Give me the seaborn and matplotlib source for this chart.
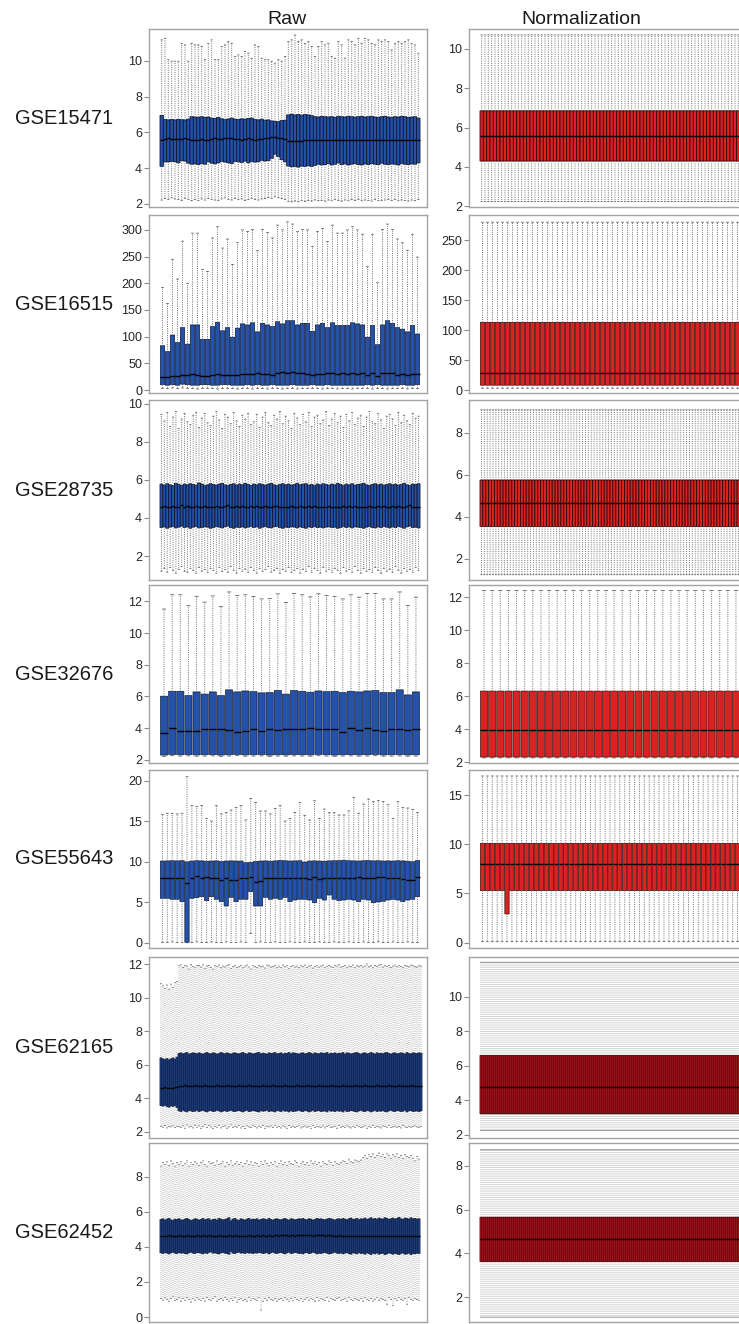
import numpy as np
import pandas as pd
import matplotlib
matplotlib.use("Agg")
import matplotlib.pyplot as plt
import seaborn as sns

# ---------------------------------------------------------------------------
# Per-sample five-number summaries (whisker low, Q1, median, Q3, whisker high)
# ---------------------------------------------------------------------------
datasets = ["GSE15471", "GSE16515", "GSE28735", "GSE32676",
            "GSE55643", "GSE62165", "GSE62452"]

# GSE15471 raw (78 arrays)
gse15471_hi = [11.17, 11.26, 10.06, 9.98, 9.98, 9.98, 10.98, 10.89, 9.98, 10.98,
               10.89, 10.89, 10.80, 10.06, 10.98, 11.17, 10.06, 10.06, 10.80, 10.89,
               11.07, 10.98, 10.24, 10.33, 10.24, 10.52, 10.43, 10.15, 10.89, 10.80,
               10.15, 10.06, 10.06, 9.98, 9.87, 10.06, 9.98, 10.24, 11.07, 11.17,
               11.44, 11.07, 11.17, 10.98, 11.07, 10.80, 10.24, 10.80, 11.07, 10.89,
               10.98, 10.24, 10.15, 11.07, 10.89, 10.15, 11.17, 11.07, 10.89, 11.26,
               10.98, 11.26, 11.17, 10.98, 10.89, 11.17, 11.07, 11.17, 11.07, 10.61,
               10.98, 11.07, 10.98, 11.07, 11.17, 10.98, 10.89, 10.43]
gse15471_q3 = [6.95, 6.72, 6.70, 6.72, 6.70, 6.73, 6.71, 6.70, 6.74, 6.88,
               6.86, 6.85, 6.88, 6.84, 6.86, 6.80, 6.78, 6.84, 6.76, 6.72,
               6.75, 6.80, 6.74, 6.72, 6.76, 6.74, 6.78, 6.80, 6.72, 6.70,
               6.74, 6.68, 6.70, 6.64, 6.62, 6.60, 6.66, 6.68, 6.98, 7.02,
               6.98, 7.00, 6.96, 7.00, 6.98, 6.94, 6.88, 6.86, 6.90, 6.88,
               6.86, 6.88, 6.84, 6.90, 6.88, 6.86, 6.90, 6.88, 6.85, 6.88,
               6.90, 6.86, 6.88, 6.90, 6.86, 6.84, 6.88, 6.90, 6.86, 6.84,
               6.88, 6.86, 6.90, 6.88, 6.84, 6.86, 6.88, 6.80]
gse15471_med = [5.55, 5.64, 5.66, 5.64, 5.62, 5.65, 5.63, 5.66, 5.64, 5.60,
                5.58, 5.60, 5.62, 5.58, 5.60, 5.62, 5.66, 5.64, 5.62, 5.66,
                5.68, 5.66, 5.64, 5.62, 5.60, 5.64, 5.66, 5.62, 5.60, 5.62,
                5.64, 5.66, 5.70, 5.72, 5.74, 5.70, 5.66, 5.64, 5.52, 5.50,
                5.52, 5.54, 5.52, 5.55, 5.56, 5.58, 5.60, 5.58, 5.56, 5.58,
                5.56, 5.58, 5.60, 5.56, 5.58, 5.55, 5.57, 5.58, 5.56, 5.58,
                5.60, 5.58, 5.56, 5.58, 5.60, 5.58, 5.56, 5.58, 5.60, 5.58,
                5.56, 5.58, 5.60, 5.58, 5.56, 5.58, 5.60, 5.56]
gse15471_q1 = [4.10, 4.35, 4.35, 4.38, 4.36, 4.30, 4.42, 4.40, 4.28, 4.22,
               4.24, 4.20, 4.26, 4.22, 4.36, 4.28, 4.24, 4.30, 4.38, 4.34,
               4.30, 4.26, 4.38, 4.36, 4.32, 4.40, 4.30, 4.38, 4.34, 4.36,
               4.44, 4.40, 4.42, 4.55, 4.78, 4.65, 4.48, 4.36, 4.12, 4.08,
               4.10, 4.06, 4.12, 4.10, 4.14, 4.10, 4.16, 4.22, 4.18, 4.20,
               4.26, 4.18, 4.22, 4.30, 4.20, 4.24, 4.18, 4.22, 4.26, 4.20,
               4.18, 4.24, 4.20, 4.26, 4.22, 4.20, 4.28, 4.22, 4.20, 4.24,
               4.22, 4.18, 4.26, 4.22, 4.20, 4.24, 4.22, 4.30]
gse15471_lo = [2.22, 2.30, 2.26, 2.34, 2.28, 2.24, 2.20, 2.32, 2.26, 2.18,
               2.24, 2.20, 2.28, 2.22, 2.30, 2.26, 2.22, 2.20, 2.28, 2.34,
               2.26, 2.22, 2.30, 2.24, 2.28, 2.20, 2.26, 2.32, 2.24, 2.22,
               2.28, 2.30, 2.36, 2.32, 2.40, 2.36, 2.30, 2.26, 2.14, 2.12,
               2.16, 2.12, 2.18, 2.14, 2.20, 2.16, 2.22, 2.18, 2.20, 2.16,
               2.22, 2.18, 2.24, 2.20, 2.16, 2.22, 2.18, 2.24, 2.20, 2.26,
               2.18, 2.22, 2.20, 2.16, 2.24, 2.20, 2.18, 2.22, 2.26, 2.20,
               2.24, 2.18, 2.22, 2.20, 2.16, 2.22, 2.18, 2.26]

# GSE16515 raw (52 arrays, linear scale)
gse16515_hi = [192, 162, 245, 208, 279, 200, 294, 294, 226, 222,
               285, 306, 266, 283, 235, 276, 300, 297, 301, 261,
               301, 295, 285, 309, 300, 315, 311, 297, 301, 300,
               269, 297, 303, 278, 309, 294, 294, 300, 306, 300,
               292, 231, 292, 201, 301, 311, 301, 283, 276, 262,
               292, 249]
gse16515_q3 = [83, 72, 103, 89, 117, 86, 122, 122, 95, 95,
               119, 127, 111, 117, 99, 116, 124, 122, 126, 109,
               125, 122, 119, 128, 124, 130, 130, 122, 125, 125,
               110, 122, 125, 117, 126, 121, 121, 121, 126, 124,
               122, 99, 121, 85, 122, 130, 125, 117, 114, 109,
               121, 105]
gse16515_med = [25, 24, 27, 26, 29, 28, 30, 29, 27, 26,
                29, 30, 29, 29, 28, 29, 30, 30, 30, 31,
                30, 30, 29, 31, 34, 32, 33, 32, 31, 30,
                28, 30, 30, 31, 32, 30, 31, 30, 31, 30,
                31, 29, 32, 27, 31, 32, 31, 29, 30, 29,
                30, 30]
gse16515_q1 = [10, 9, 10, 9, 11, 10, 9, 9, 10, 10,
               9, 9, 10, 10, 9, 9, 9, 10, 9, 10,
               9, 9, 10, 9, 9, 9, 10, 9, 9, 9,
               10, 9, 9, 10, 9, 9, 9, 9, 9, 9,
               9, 10, 9, 10, 9, 9, 9, 9, 10, 9,
               9, 10]
gse16515_lo = [3, 3, 4, 3, 4, 3, 3, 2, 3, 3,
               3, 2, 3, 3, 3, 2, 3, 3, 2, 3,
               3, 2, 3, 3, 2, 3, 3, 2, 3, 3,
               3, 3, 2, 3, 3, 2, 3, 3, 2, 3,
               3, 3, 2, 3, 3, 2, 3, 3, 3, 2,
               3, 3]

# GSE28735 raw (90 arrays)
gse28735_hi = [9.45, 9.10, 9.55, 8.80, 9.30, 9.60, 8.70, 9.20, 9.50, 9.05,
               8.90, 9.40, 9.55, 8.75, 9.25, 9.50, 9.00, 8.85, 9.35, 9.60,
               9.15, 8.70, 9.45, 9.30, 8.95, 9.55, 9.10, 8.80, 9.40, 9.20,
               9.50, 8.90, 9.05, 9.45, 8.75, 9.30, 9.55, 9.00, 8.85, 9.40,
               9.20, 9.60, 8.95, 9.35, 9.10, 8.70, 9.50, 9.25, 8.90, 9.45,
               9.05, 9.55, 8.80, 9.30, 9.40, 8.95, 9.15, 9.60, 8.85, 9.20,
               9.50, 9.00, 9.35, 8.75, 9.45, 9.10, 9.55, 8.90, 9.25, 9.40,
               8.80, 9.30, 9.60, 9.05, 8.95, 9.50, 9.15, 8.70, 9.35, 9.45,
               9.20, 8.85, 9.55, 9.00, 9.40, 9.10, 8.90, 9.50, 9.25, 9.35]
gse28735_q3 = [5.78, 5.72, 5.80, 5.74, 5.70, 5.82, 5.76, 5.70, 5.78, 5.74,
               5.80, 5.76, 5.72, 5.84, 5.78, 5.70, 5.74, 5.80, 5.76, 5.72,
               5.78, 5.82, 5.74, 5.70, 5.76, 5.80, 5.72, 5.78, 5.74, 5.82,
               5.76, 5.70, 5.78, 5.74, 5.80, 5.76, 5.72, 5.78, 5.82, 5.74,
               5.70, 5.76, 5.80, 5.74, 5.78, 5.72, 5.76, 5.82, 5.74, 5.78,
               5.80, 5.72, 5.76, 5.70, 5.78, 5.74, 5.80, 5.76, 5.72, 5.78,
               5.74, 5.82, 5.76, 5.70, 5.78, 5.74, 5.80, 5.72, 5.76, 5.78,
               5.82, 5.74, 5.70, 5.76, 5.80, 5.74, 5.78, 5.72, 5.76, 5.80,
               5.74, 5.78, 5.72, 5.76, 5.82, 5.74, 5.70, 5.78, 5.76, 5.80]
gse28735_med = [4.58, 4.62, 4.56, 4.60, 4.64, 4.58, 4.60, 4.66, 4.58, 4.62,
                4.56, 4.60, 4.64, 4.58, 4.60, 4.62, 4.60, 4.56, 4.58, 4.64,
                4.60, 4.58, 4.62, 4.66, 4.60, 4.56, 4.62, 4.58, 4.62, 4.56,
                4.60, 4.64, 4.58, 4.62, 4.56, 4.60, 4.64, 4.58, 4.58, 4.62,
                4.64, 4.58, 4.56, 4.60, 4.58, 4.62, 4.60, 4.58, 4.62, 4.58,
                4.56, 4.62, 4.58, 4.64, 4.60, 4.60, 4.58, 4.60, 4.62, 4.58,
                4.60, 4.56, 4.58, 4.64, 4.60, 4.62, 4.58, 4.62, 4.60, 4.58,
                4.56, 4.60, 4.64, 4.60, 4.58, 4.62, 4.58, 4.64, 4.60, 4.58,
                4.62, 4.58, 4.64, 4.60, 4.56, 4.62, 4.66, 4.58, 4.60, 4.58]
gse28735_q1 = [3.50, 3.54, 3.46, 3.52, 3.56, 3.48, 3.52, 3.58, 3.50, 3.54,
               3.46, 3.52, 3.56, 3.48, 3.50, 3.54, 3.52, 3.46, 3.50, 3.56,
               3.52, 3.48, 3.54, 3.58, 3.50, 3.46, 3.52, 3.50, 3.54, 3.48,
               3.52, 3.56, 3.50, 3.54, 3.46, 3.52, 3.56, 3.50, 3.48, 3.54,
               3.56, 3.50, 3.46, 3.52, 3.50, 3.54, 3.52, 3.48, 3.54, 3.50,
               3.46, 3.54, 3.50, 3.56, 3.50, 3.52, 3.48, 3.52, 3.54, 3.50,
               3.52, 3.46, 3.50, 3.56, 3.50, 3.54, 3.48, 3.54, 3.52, 3.50,
               3.46, 3.52, 3.56, 3.50, 3.48, 3.54, 3.50, 3.56, 3.52, 3.48,
               3.54, 3.50, 3.56, 3.52, 3.46, 3.54, 3.58, 3.50, 3.52, 3.48]
gse28735_lo = [1.20, 1.35, 1.15, 1.40, 1.25, 1.10, 1.30, 1.45, 1.20, 1.15,
               1.35, 1.25, 1.10, 1.40, 1.20, 1.30, 1.15, 1.35, 1.25, 1.10,
               1.40, 1.20, 1.30, 1.15, 1.45, 1.25, 1.10, 1.35, 1.20, 1.30,
               1.15, 1.40, 1.25, 1.10, 1.35, 1.20, 1.30, 1.45, 1.15, 1.25,
               1.35, 1.10, 1.30, 1.20, 1.40, 1.15, 1.25, 1.35, 1.10, 1.30,
               1.20, 1.45, 1.15, 1.35, 1.25, 1.10, 1.40, 1.20, 1.30, 1.15,
               1.35, 1.25, 1.10, 1.40, 1.20, 1.30, 1.15, 1.45, 1.25, 1.10,
               1.35, 1.20, 1.30, 1.15, 1.40, 1.25, 1.10, 1.35, 1.20, 1.30,
               1.15, 1.45, 1.25, 1.10, 1.35, 1.20, 1.30, 1.15, 1.40, 1.25]

# GSE32676 raw (32 arrays)
gse32676_hi = [11.52, 12.42, 12.42, 11.73, 12.33, 11.96, 12.35, 11.67, 12.60, 12.37,
               12.42, 12.31, 12.16, 12.18, 12.48, 11.94, 12.50, 12.42, 12.29, 12.48,
               12.37, 12.31, 12.16, 12.42, 12.27, 12.50, 12.50, 12.16, 12.16, 12.60,
               11.75, 12.27]
gse32676_q3 = [6.02, 6.33, 6.33, 6.06, 6.29, 6.15, 6.29, 6.06, 6.42, 6.29,
               6.35, 6.31, 6.23, 6.25, 6.38, 6.15, 6.38, 6.33, 6.27, 6.35,
               6.31, 6.33, 6.25, 6.33, 6.29, 6.35, 6.38, 6.25, 6.25, 6.42,
               6.10, 6.29]
gse32676_med = [3.71, 3.98, 3.80, 3.83, 3.85, 3.92, 3.96, 3.92, 3.88, 3.75,
                3.85, 3.96, 3.83, 3.92, 3.88, 3.96, 3.96, 3.92, 3.98, 3.92,
                3.92, 3.92, 3.75, 4.00, 3.88, 4.00, 3.88, 3.79, 3.92, 3.92,
                3.88, 3.92]
gse32676_q1 = [2.30, 2.34, 2.32, 2.33, 2.31, 2.32, 2.33, 2.30, 2.32, 2.34,
               2.31, 2.32, 2.33, 2.30, 2.32, 2.31, 2.33, 2.32, 2.31, 2.34,
               2.32, 2.30, 2.32, 2.33, 2.31, 2.32, 2.34, 2.31, 2.32, 2.33,
               2.31, 2.32]
gse32676_lo = [2.22, 2.26, 2.24, 2.25, 2.23, 2.24, 2.25, 2.22, 2.24, 2.26,
               2.23, 2.24, 2.25, 2.22, 2.24, 2.23, 2.25, 2.24, 2.23, 2.26,
               2.24, 2.22, 2.24, 2.25, 2.23, 2.24, 2.26, 2.23, 2.24, 2.25,
               2.23, 2.24]

# GSE55643 raw (53 arrays)
gse55643_hi = [15.87, 16.00, 16.00, 15.92, 16.00, 20.52, 16.94, 16.81, 16.94, 15.37,
               15.04, 16.94, 15.92, 16.11, 16.40, 16.73, 16.94, 15.17, 17.84, 17.35,
               16.28, 16.28, 15.92, 16.60, 16.94, 15.04, 15.37, 16.11, 17.35, 15.74,
               15.17, 17.55, 15.37, 16.52, 16.07, 16.07, 15.79, 15.79, 16.28, 17.93,
               16.00, 17.14, 17.76, 17.43, 17.60, 17.47, 17.06, 15.37, 17.43, 16.73,
               16.65, 16.48, 16.11]
gse55643_q3 = [10.10, 10.12, 10.14, 10.12, 10.15, 10.00, 10.10, 10.14, 10.12, 10.08,
               10.10, 10.12, 10.05, 10.10, 10.12, 10.10, 10.10, 9.90, 9.95, 10.05,
               10.10, 10.12, 10.08, 10.12, 10.18, 10.14, 10.10, 10.12, 10.14, 9.98,
               10.10, 10.12, 10.10, 10.08, 10.12, 10.14, 10.16, 10.20, 10.14, 10.12,
               10.10, 10.14, 10.16, 10.12, 10.14, 10.10, 10.12, 10.10, 10.14, 10.12,
               10.08, 10.02, 10.16]
gse55643_med = [8.00, 8.02, 8.00, 8.02, 8.00, 7.40, 8.00, 8.30, 8.02, 8.10,
                8.05, 7.95, 7.75, 8.00, 7.80, 7.80, 8.00, 8.05, 8.10, 7.55,
                7.58, 8.00, 8.02, 8.00, 7.95, 8.00, 8.02, 8.00, 8.05, 8.02,
                7.82, 8.08, 7.90, 8.02, 8.00, 8.04, 8.02, 8.00, 7.98, 8.06,
                8.08, 8.04, 8.06, 8.00, 8.08, 8.10, 8.04, 8.00, 8.06, 7.85,
                7.80, 7.78, 8.10]
gse55643_q1 = [5.49, 5.49, 5.37, 5.37, 5.08, 0.05, 5.49, 5.57, 5.69, 5.20,
               5.69, 5.37, 5.08, 4.54, 5.61, 5.08, 5.37, 5.37, 6.31, 4.54,
               4.54, 5.61, 5.37, 5.49, 5.37, 5.61, 5.08, 5.28, 5.37, 5.37,
               5.28, 4.95, 5.49, 5.28, 5.90, 5.37, 5.20, 5.28, 5.37, 5.28,
               5.08, 5.37, 5.28, 4.95, 5.04, 5.12, 5.28, 5.37, 5.28, 5.08,
               5.28, 5.37, 5.69]
gse55643_lo = [0.05, 0.05, 0.10, 0.05, 0.05, 0.00, 0.05, 0.10, 0.05, 0.05,
               0.10, 0.05, 0.05, 0.10, 0.05, 0.05, 0.10, 0.05, 1.16, 0.05,
               0.10, 0.05, 0.05, 0.10, 0.05, 0.05, 0.10, 0.05, 0.05, 0.10,
               0.05, 0.05, 0.10, 0.05, 0.05, 0.10, 0.05, 0.05, 0.10, 0.05,
               0.05, 0.10, 0.05, 0.05, 0.10, 0.05, 0.05, 0.10, 0.05, 0.05,
               0.10, 0.05, 0.05]

# GSE62165 raw (131 arrays)
gse62165_hi = [10.85, 10.70, 10.55, 10.75, 10.50, 10.80, 10.60, 10.90, 10.95,
               11.90, 11.95, 11.80, 11.92, 11.88, 11.70, 11.96, 11.85, 11.78, 11.92,
               11.90, 11.82, 11.95, 11.75, 11.88, 11.92, 11.80, 11.70, 11.90, 11.86,
               11.94, 11.78, 11.88, 11.82, 11.92, 11.96, 11.74, 11.86, 11.90, 11.80,
               11.84, 11.92, 11.78, 11.88, 11.94, 11.82, 11.70, 11.90, 11.86, 11.80,
               11.92, 11.84, 11.88, 11.76, 11.94, 11.90, 11.82, 11.86, 11.92, 11.78,
               11.88, 11.80, 11.94, 11.84, 11.90, 11.72, 11.86, 11.92, 11.82, 11.88,
               11.78, 11.90, 11.84, 11.94, 11.80, 11.88, 11.92, 11.76, 11.86, 11.90,
               11.82, 11.88, 11.94, 11.78, 11.86, 11.92, 11.84, 11.80, 11.90, 11.88,
               11.96, 11.82, 11.86, 11.92, 11.78, 11.88, 11.84, 11.94, 11.80, 11.90,
               11.86, 11.92, 11.82, 11.88, 12.00, 11.84, 11.90, 11.78, 11.92, 11.86,
               11.94, 11.98, 11.82, 11.90, 11.86, 11.92, 11.80, 11.88, 11.94, 11.84,
               11.90, 11.86, 11.78, 11.92, 11.88, 11.84, 11.94, 11.90, 11.86, 11.82,
               11.90, 11.88]
gse62165_q3 = [6.40, 6.34, 6.30, 6.36, 6.28, 6.34, 6.40, 6.32, 6.44,
               6.66, 6.70, 6.64, 6.68, 6.72, 6.62, 6.66, 6.70, 6.68, 6.64,
               6.70, 6.66, 6.62, 6.68, 6.72, 6.66, 6.64, 6.70, 6.68, 6.62,
               6.66, 6.72, 6.68, 6.64, 6.70, 6.66, 6.62, 6.68, 6.70, 6.66,
               6.64, 6.68, 6.72, 6.66, 6.62, 6.70, 6.68, 6.64, 6.66, 6.70,
               6.72, 6.64, 6.68, 6.66, 6.62, 6.70, 6.66, 6.68, 6.72, 6.64,
               6.66, 6.70, 6.62, 6.68, 6.66, 6.72, 6.64, 6.70, 6.68, 6.66,
               6.62, 6.68, 6.70, 6.64, 6.66, 6.72, 6.68, 6.62, 6.70, 6.66,
               6.64, 6.70, 6.68, 6.66, 6.72, 6.62, 6.68, 6.66, 6.70, 6.64,
               6.68, 6.66, 6.72, 6.62, 6.70, 6.68, 6.64, 6.66, 6.70, 6.72,
               6.66, 6.62, 6.68, 6.70, 6.64, 6.66, 6.72, 6.68, 6.62, 6.70,
               6.66, 6.68, 6.64, 6.70, 6.72, 6.66, 6.62, 6.68, 6.70, 6.64,
               6.66, 6.70, 6.68, 6.62, 6.72, 6.66, 6.64, 6.70, 6.68, 6.66,
               6.70, 6.68]
gse62165_med = [4.62, 4.60, 4.64, 4.58, 4.60, 4.62, 4.58, 4.64, 4.66,
                4.72, 4.74, 4.70, 4.76, 4.72, 4.70, 4.74, 4.72, 4.76, 4.70,
                4.74, 4.72, 4.70, 4.76, 4.74, 4.72, 4.70, 4.74, 4.72, 4.76,
                4.70, 4.72, 4.74, 4.70, 4.76, 4.72, 4.74, 4.70, 4.72, 4.74,
                4.76, 4.72, 4.70, 4.74, 4.72, 4.76, 4.70, 4.72, 4.74, 4.72,
                4.70, 4.74, 4.76, 4.72, 4.70, 4.74, 4.72, 4.76, 4.72, 4.70,
                4.74, 4.72, 4.70, 4.76, 4.74, 4.72, 4.70, 4.74, 4.72, 4.76,
                4.72, 4.70, 4.74, 4.72, 4.76, 4.70, 4.72, 4.74, 4.70, 4.72,
                4.76, 4.74, 4.72, 4.70, 4.74, 4.72, 4.76, 4.70, 4.72, 4.74,
                4.72, 4.70, 4.76, 4.74, 4.72, 4.70, 4.74, 4.72, 4.76, 4.72,
                4.70, 4.74, 4.72, 4.76, 4.70, 4.72, 4.74, 4.72, 4.70, 4.76,
                4.74, 4.72, 4.70, 4.74, 4.72, 4.76, 4.72, 4.70, 4.74, 4.72,
                4.76, 4.70, 4.72, 4.74, 4.72, 4.70, 4.76, 4.74, 4.72, 4.70,
                4.74, 4.72]
gse62165_q1 = [3.56, 3.52, 3.58, 3.50, 3.46, 3.54, 3.50, 3.56, 3.44,
               3.24, 3.20, 3.28, 3.22, 3.18, 3.26, 3.24, 3.20, 3.22, 3.28,
               3.20, 3.24, 3.28, 3.22, 3.18, 3.24, 3.26, 3.20, 3.22, 3.28,
               3.24, 3.18, 3.22, 3.26, 3.20, 3.24, 3.28, 3.22, 3.20, 3.24,
               3.26, 3.22, 3.18, 3.24, 3.28, 3.20, 3.22, 3.26, 3.24, 3.20,
               3.18, 3.26, 3.22, 3.24, 3.28, 3.20, 3.24, 3.22, 3.18, 3.26,
               3.24, 3.20, 3.28, 3.22, 3.24, 3.18, 3.26, 3.20, 3.22, 3.24,
               3.28, 3.22, 3.20, 3.26, 3.24, 3.18, 3.22, 3.28, 3.20, 3.24,
               3.26, 3.20, 3.22, 3.24, 3.18, 3.28, 3.22, 3.24, 3.20, 3.26,
               3.22, 3.24, 3.18, 3.28, 3.20, 3.22, 3.26, 3.24, 3.20, 3.18,
               3.24, 3.28, 3.22, 3.20, 3.26, 3.24, 3.18, 3.22, 3.28, 3.20,
               3.24, 3.22, 3.26, 3.20, 3.18, 3.24, 3.28, 3.22, 3.20, 3.26,
               3.24, 3.20, 3.22, 3.28, 3.18, 3.24, 3.26, 3.20, 3.22, 3.24,
               3.20, 3.24]
gse62165_lo = [2.32, 2.26, 2.36, 2.22, 2.30, 2.28, 2.34, 2.24, 2.30,
               2.30, 2.25, 2.35, 2.20, 2.40, 2.28, 2.32, 2.22, 2.38, 2.26,
               2.34, 2.20, 2.30, 2.42, 2.24, 2.36, 2.28, 2.18, 2.32, 2.26,
               2.38, 2.22, 2.30, 2.34, 2.20, 2.28, 2.40, 2.24, 2.32, 2.26,
               2.36, 2.22, 2.30, 2.18, 2.34, 2.28, 2.24, 2.38, 2.30, 2.22,
               2.32, 2.26, 2.36, 2.20, 2.30, 2.28, 2.34, 2.24, 2.38, 2.26,
               2.30, 2.22, 2.34, 2.28, 2.20, 2.36, 2.26, 2.32, 2.24, 2.30,
               2.38, 2.22, 2.28, 2.34, 2.26, 2.30, 2.20, 2.36, 2.24, 2.32,
               2.28, 2.26, 2.34, 2.22, 2.30, 2.38, 2.24, 2.28, 2.32, 2.20,
               2.36, 2.26, 2.30, 2.24, 2.34, 2.28, 2.22, 2.32, 2.26, 2.38,
               2.30, 2.24, 2.28, 2.34, 2.20, 2.30, 2.26, 2.36, 2.24, 2.32,
               2.28, 2.22, 2.34, 2.30, 2.26, 2.38, 2.24, 2.28, 2.32, 2.26,
               2.30, 2.22, 2.36, 2.28, 2.24, 2.32, 2.26, 2.30, 2.34, 2.28,
               2.26, 2.30]

# GSE62452 raw (130 arrays)
gse62452_hi = [8.60, 8.80, 8.70, 8.85, 8.65, 8.90, 8.75, 8.60, 8.80, 8.70,
               8.85, 8.65, 8.75, 8.90, 8.60, 8.80, 8.70, 8.85, 8.75, 8.65,
               8.80, 8.90, 8.70, 8.60, 8.85, 8.75, 8.80, 8.65, 8.90, 8.70,
               8.75, 8.85, 8.60, 8.80, 8.70, 8.90, 8.65, 8.75, 8.85, 8.70,
               8.80, 8.60, 8.75, 8.90, 8.70, 8.85, 8.65, 8.80, 8.75, 8.60,
               8.85, 8.70, 8.90, 8.75, 8.65, 8.80, 8.70, 8.85, 8.60, 8.75,
               8.90, 8.70, 8.80, 8.65, 8.85, 8.75, 8.70, 8.90, 8.80, 8.60,
               8.75, 8.85, 8.70, 8.80, 8.65, 8.90, 8.75, 8.85, 8.70, 8.80,
               8.60, 8.85, 8.75, 8.70, 8.90, 8.80, 8.65, 8.85, 8.75, 8.70,
               8.80, 8.90, 8.85, 8.75, 9.00, 8.85, 8.80, 8.95, 8.90, 8.85,
               8.95, 9.10, 9.20, 9.05, 9.25, 9.15, 9.30, 9.10, 9.20, 9.35,
               9.15, 9.25, 9.10, 9.30, 9.20, 9.05, 9.25, 9.15, 9.30, 9.10,
               9.20, 9.05, 9.25, 9.15, 9.10, 9.20, 9.05, 8.90, 9.15, 9.00]
gse62452_q3 = [5.56, 5.60, 5.52, 5.58, 5.62, 5.54, 5.50, 5.58, 5.56, 5.60,
               5.54, 5.52, 5.58, 5.62, 5.56, 5.50, 5.54, 5.60, 5.58, 5.52,
               5.56, 5.62, 5.54, 5.58, 5.60, 5.50, 5.56, 5.58, 5.52, 5.62,
               5.58, 5.54, 5.56, 5.60, 5.66, 5.48, 5.58, 5.62, 5.54, 5.50,
               5.60, 5.56, 5.52, 5.58, 5.62, 5.54, 5.58, 5.56, 5.60, 5.52,
               5.56, 5.60, 5.58, 5.54, 5.62, 5.56, 5.52, 5.58, 5.60, 5.56,
               5.54, 5.58, 5.62, 5.56, 5.52, 5.60, 5.58, 5.54, 5.56, 5.60,
               5.58, 5.62, 5.56, 5.54, 5.60, 5.58, 5.52, 5.56, 5.62, 5.58,
               5.60, 5.56, 5.54, 5.58, 5.62, 5.60, 5.56, 5.52, 5.58, 5.60,
               5.56, 5.62, 5.58, 5.54, 5.60, 5.64, 5.56, 5.58, 5.62, 5.54,
               5.60, 5.58, 5.64, 5.56, 5.60, 5.66, 5.58, 5.62, 5.56, 5.64,
               5.60, 5.58, 5.66, 5.62, 5.56, 5.60, 5.64, 5.58, 5.62, 5.68,
               5.60, 5.56, 5.64, 5.62, 5.58, 5.66, 5.60, 5.62, 5.58, 5.60]
gse62452_med = [4.62, 4.64, 4.60, 4.62, 4.66, 4.62, 4.60, 4.64, 4.62, 4.66,
                4.62, 4.60, 4.64, 4.66, 4.62, 4.60, 4.62, 4.64, 4.66, 4.60,
                4.62, 4.66, 4.62, 4.64, 4.66, 4.60, 4.62, 4.64, 4.60, 4.66,
                4.64, 4.62, 4.60, 4.64, 4.66, 4.62, 4.64, 4.66, 4.62, 4.60,
                4.64, 4.62, 4.60, 4.64, 4.66, 4.62, 4.64, 4.62, 4.66, 4.60,
                4.62, 4.66, 4.64, 4.62, 4.68, 4.64, 4.62, 4.66, 4.68, 4.64,
                4.66, 4.68, 4.70, 4.66, 4.64, 4.68, 4.66, 4.64, 4.66, 4.68,
                4.66, 4.70, 4.68, 4.66, 4.68, 4.66, 4.64, 4.66, 4.68, 4.66,
                4.68, 4.66, 4.64, 4.66, 4.68, 4.66, 4.64, 4.62, 4.64, 4.66,
                4.62, 4.64, 4.62, 4.60, 4.62, 4.64, 4.60, 4.62, 4.64, 4.60,
                4.62, 4.60, 4.64, 4.62, 4.60, 4.64, 4.62, 4.60, 4.62, 4.64,
                4.60, 4.62, 4.64, 4.62, 4.60, 4.62, 4.64, 4.60, 4.62, 4.60,
                4.62, 4.60, 4.64, 4.62, 4.60, 4.62, 4.64, 4.62, 4.60, 4.62]
gse62452_q1 = [3.66, 3.62, 3.68, 3.64, 3.60, 3.66, 3.70, 3.64, 3.62, 3.68,
               3.64, 3.66, 3.62, 3.60, 3.66, 3.70, 3.64, 3.62, 3.68, 3.66,
               3.64, 3.60, 3.66, 3.62, 3.68, 3.72, 3.64, 3.66, 3.62, 3.60,
               3.66, 3.68, 3.64, 3.62, 3.58, 3.74, 3.64, 3.62, 3.68, 3.70,
               3.64, 3.66, 3.62, 3.68, 3.64, 3.66, 3.62, 3.66, 3.64, 3.68,
               3.66, 3.62, 3.64, 3.68, 3.60, 3.66, 3.70, 3.64, 3.62, 3.66,
               3.68, 3.64, 3.60, 3.66, 3.70, 3.62, 3.64, 3.68, 3.66, 3.62,
               3.64, 3.60, 3.66, 3.68, 3.62, 3.64, 3.70, 3.66, 3.60, 3.64,
               3.62, 3.66, 3.68, 3.64, 3.60, 3.62, 3.66, 3.70, 3.64, 3.62,
               3.66, 3.60, 3.64, 3.68, 3.62, 3.58, 3.66, 3.64, 3.60, 3.68,
               3.62, 3.64, 3.58, 3.66, 3.62, 3.56, 3.64, 3.60, 3.66, 3.58,
               3.62, 3.64, 3.56, 3.60, 3.66, 3.62, 3.58, 3.64, 3.60, 3.56,
               3.62, 3.66, 3.58, 3.60, 3.64, 3.56, 3.62, 3.60, 3.64, 3.62]
gse62452_lo = [1.05, 0.95, 1.10, 1.00, 0.90, 1.05, 1.15, 0.95, 1.00, 1.10,
               0.90, 1.05, 0.95, 1.10, 1.00, 0.85, 1.05, 0.95, 1.10, 1.00,
               0.95, 1.05, 0.90, 1.10, 1.00, 0.95, 1.05, 1.15, 0.90, 1.00,
               1.05, 0.95, 1.10, 1.00, 0.90, 1.05, 0.95, 1.10, 0.85, 1.00,
               1.05, 0.95, 1.00, 0.90, 1.10, 0.95, 1.05, 1.00, 0.95, 1.10,
               0.40, 0.90, 1.05, 0.95, 1.10, 1.00, 0.95, 1.05, 0.90, 1.00,
               1.05, 0.95, 1.10, 1.00, 0.90, 1.05, 0.95, 1.10, 1.00, 0.95,
               1.05, 0.90, 1.00, 1.10, 0.95, 1.05, 1.00, 0.90, 1.10, 0.95,
               1.05, 1.00, 0.95, 1.10, 0.90, 1.05, 1.00, 0.95, 1.05, 1.10,
               0.95, 1.00, 1.05, 0.90, 1.10, 1.00, 0.95, 1.05, 1.00, 0.95,
               1.05, 0.90, 1.10, 1.00, 0.95, 1.05, 0.90, 1.00, 1.10, 0.95,
               1.05, 1.00, 0.95, 0.70, 1.10, 1.00, 0.65, 1.05, 0.95, 1.10,
               1.00, 0.95, 1.05, 0.70, 1.10, 1.00, 0.95, 1.05, 1.00, 0.95]

# After quantile normalization every array shares one summary
# (whisker low, Q1, median, Q3, whisker high)
norm_gse15471 = [2.25, 4.30, 5.55, 6.85, 10.70]
norm_gse16515 = [3, 8, 28, 113, 280]
norm_gse28735 = [1.25, 3.55, 4.65, 5.76, 9.10]
norm_gse32676 = [2.25, 2.30, 3.95, 6.30, 12.40]
norm_gse55643 = [0.10, 5.29, 8.03, 10.10, 16.94]
norm_gse62165 = [2.25, 3.22, 4.75, 6.60, 12.00]
norm_gse62452 = [1.10, 3.63, 4.65, 5.65, 8.72]
# one GSE55643 array keeps a long lower tail after normalization
norm_gse55643_outlier_index = 5
norm_gse55643_outlier_q1 = 2.92

raw_stats = {
    "GSE15471": (gse15471_lo, gse15471_q1, gse15471_med, gse15471_q3, gse15471_hi),
    "GSE16515": (gse16515_lo, gse16515_q1, gse16515_med, gse16515_q3, gse16515_hi),
    "GSE28735": (gse28735_lo, gse28735_q1, gse28735_med, gse28735_q3, gse28735_hi),
    "GSE32676": (gse32676_lo, gse32676_q1, gse32676_med, gse32676_q3, gse32676_hi),
    "GSE55643": (gse55643_lo, gse55643_q1, gse55643_med, gse55643_q3, gse55643_hi),
    "GSE62165": (gse62165_lo, gse62165_q1, gse62165_med, gse62165_q3, gse62165_hi),
    "GSE62452": (gse62452_lo, gse62452_q1, gse62452_med, gse62452_q3, gse62452_hi),
}
norm_stats = {
    "GSE15471": norm_gse15471, "GSE16515": norm_gse16515,
    "GSE28735": norm_gse28735, "GSE32676": norm_gse32676,
    "GSE55643": norm_gse55643, "GSE62165": norm_gse62165,
    "GSE62452": norm_gse62452,
}

# axis ranges and ticks (raw column, normalized column)
raw_ylim = {
    "GSE15471": (1.83, 11.78), "GSE16515": (-5.6, 328), "GSE28735": (0.74, 10.2),
    "GSE32676": (1.80, 13.04), "GSE55643": (-0.65, 21.35), "GSE62165": (1.62, 12.42),
    "GSE62452": (-0.285, 9.92),
}
norm_ylim = {
    "GSE15471": (1.97, 11.0), "GSE16515": (-5.0, 292), "GSE28735": (1.0, 9.57),
    "GSE32676": (1.94, 12.73), "GSE55643": (-0.54, 17.55), "GSE62165": (1.82, 12.3),
    "GSE62452": (0.88, 9.03),
}
raw_ticks = {
    "GSE15471": [2, 4, 6, 8, 10], "GSE16515": [0, 50, 100, 150, 200, 250, 300],
    "GSE28735": [2, 4, 6, 8, 10], "GSE32676": [2, 4, 6, 8, 10, 12],
    "GSE55643": [0, 5, 10, 15, 20], "GSE62165": [2, 4, 6, 8, 10, 12],
    "GSE62452": [0, 2, 4, 6, 8],
}
norm_ticks = {
    "GSE15471": [2, 4, 6, 8, 10], "GSE16515": [0, 50, 100, 150, 200, 250],
    "GSE28735": [2, 4, 6, 8], "GSE32676": [2, 4, 6, 8, 10, 12],
    "GSE55643": [0, 5, 10, 15], "GSE62165": [2, 4, 6, 8, 10],
    "GSE62452": [2, 4, 6, 8],
}

RAW_COLOR = "#2352a8"
RAW_EDGE = "#0c1530"
NORM_COLOR = "#d92323"
NORM_EDGE = "#300606"


def summary_frame(lo, q1, med, q3, hi):
    """Five values per array; their quartiles/extremes reproduce the summary."""
    table = np.column_stack([lo, q1, med, q3, hi]).astype(float)
    n = table.shape[0]
    return pd.DataFrame({"sample": np.repeat(np.arange(n), 5),
                         "value": table.ravel()})


def normalized_columns(name, n):
    lo, q1, med, q3, hi = norm_stats[name]
    cols = [np.full(n, v, dtype=float) for v in (lo, q1, med, q3, hi)]
    if name == "GSE55643":
        cols[1][norm_gse55643_outlier_index] = norm_gse55643_outlier_q1
    return cols


def draw_boxes(ax, frame, color, edge, n):
    # crowded panels: boxes abut so the fill and borders blend evenly,
    # and the dashed whiskers are drawn finer and lighter
    dense = n >= 70
    whisker = (dict(color="#8a8a8a", linestyle=(0, (1.2, 1.6)), linewidth=0.55)
               if n >= 120 else
               dict(color="#707070", linestyle=(0, (1.0, 1.3)), linewidth=0.7))
    sns.boxplot(data=frame, x="sample", y="value", ax=ax, orient="x",
                color=color, saturation=1, width=1.0 if dense else 0.88,
                whis=(0, 100), showfliers=False, linecolor=edge,
                linewidth=0.6 if dense else 0.45,
                boxprops=dict(snap=False),
                whiskerprops=dict(snap=False, **whisker),
                capprops=dict(color="#505050", linewidth=0.55, snap=False),
                medianprops=dict(color="#000000", linewidth=1.0))


def style_axes(ax, n, ylim, ticks, pad_left_px, axes_width_px):
    # pixels per box; a pitch this close to a whole pixel is locked to it so
    # the box borders stay in phase with the pixel grid
    ppu = 260.0 / n
    if abs(ppu - round(ppu)) < 0.05:
        ppu = float(round(ppu))
    x0 = -0.5 - pad_left_px / ppu
    ax.set_xlim(x0, x0 + axes_width_px / ppu)
    ax.set_ylim(*ylim)
    ax.set_yticks(ticks)
    ax.set_yticklabels([str(t) for t in ticks])
    ax.set_xticks([])
    ax.set_xlabel("")
    ax.set_ylabel("")
    ax.set_facecolor("white")
    for sp in ax.spines.values():
        sp.set_visible(True)
        sp.set_color("#a3a3a3")
        sp.set_linewidth(1.0)
    ax.tick_params(axis="y", left=True, length=3.5, width=0.8, color="#8a8a8a",
                   labelsize=9, labelcolor="#262626", pad=1.5)


sns.set_theme(style="white")
plt.rcParams["font.family"] = ["Liberation Sans", "DejaVu Sans"]

W, H = 739, 1324
fig = plt.figure(figsize=(W / 100, H / 100), dpi=100)
fig.patch.set_facecolor("white")

row_tops = [29, 215, 400, 585, 770, 957, 1143]
row_heights = [178, 178, 180, 178, 178, 181, 179]
left_x, left_w = 149, 278
right_x, right_w = 469, 282

for name, top, h in zip(datasets, row_tops, row_heights):
    bottom = 1 - (top + h) / H
    ax_raw = fig.add_axes([left_x / W, bottom, left_w / W, h / H])
    ax_norm = fig.add_axes([right_x / W, bottom, right_w / W, h / H])

    raw_cols = raw_stats[name]
    n = len(raw_cols[1])
    draw_boxes(ax_raw, summary_frame(*raw_cols), RAW_COLOR, RAW_EDGE, n)
    style_axes(ax_raw, n, raw_ylim[name], raw_ticks[name], 11, left_w)

    draw_boxes(ax_norm, summary_frame(*normalized_columns(name, n)),
               NORM_COLOR, NORM_EDGE, n)
    style_axes(ax_norm, n, norm_ylim[name], norm_ticks[name], 11, right_w)

    fig.text(15 / W, 1 - (top + h / 2) / H, name, ha="left", va="center",
             fontsize=14.5, color="#1a1a1a")

fig.text(287 / W, 1 - 19 / H, "Raw", ha="center", va="center",
         fontsize=14, color="#1a1a1a")
fig.text(581 / W, 1 - 19 / H, "Normalization", ha="center", va="center",
         fontsize=14, color="#1a1a1a")

fig.savefig("out.png", dpi=100, facecolor="white")
